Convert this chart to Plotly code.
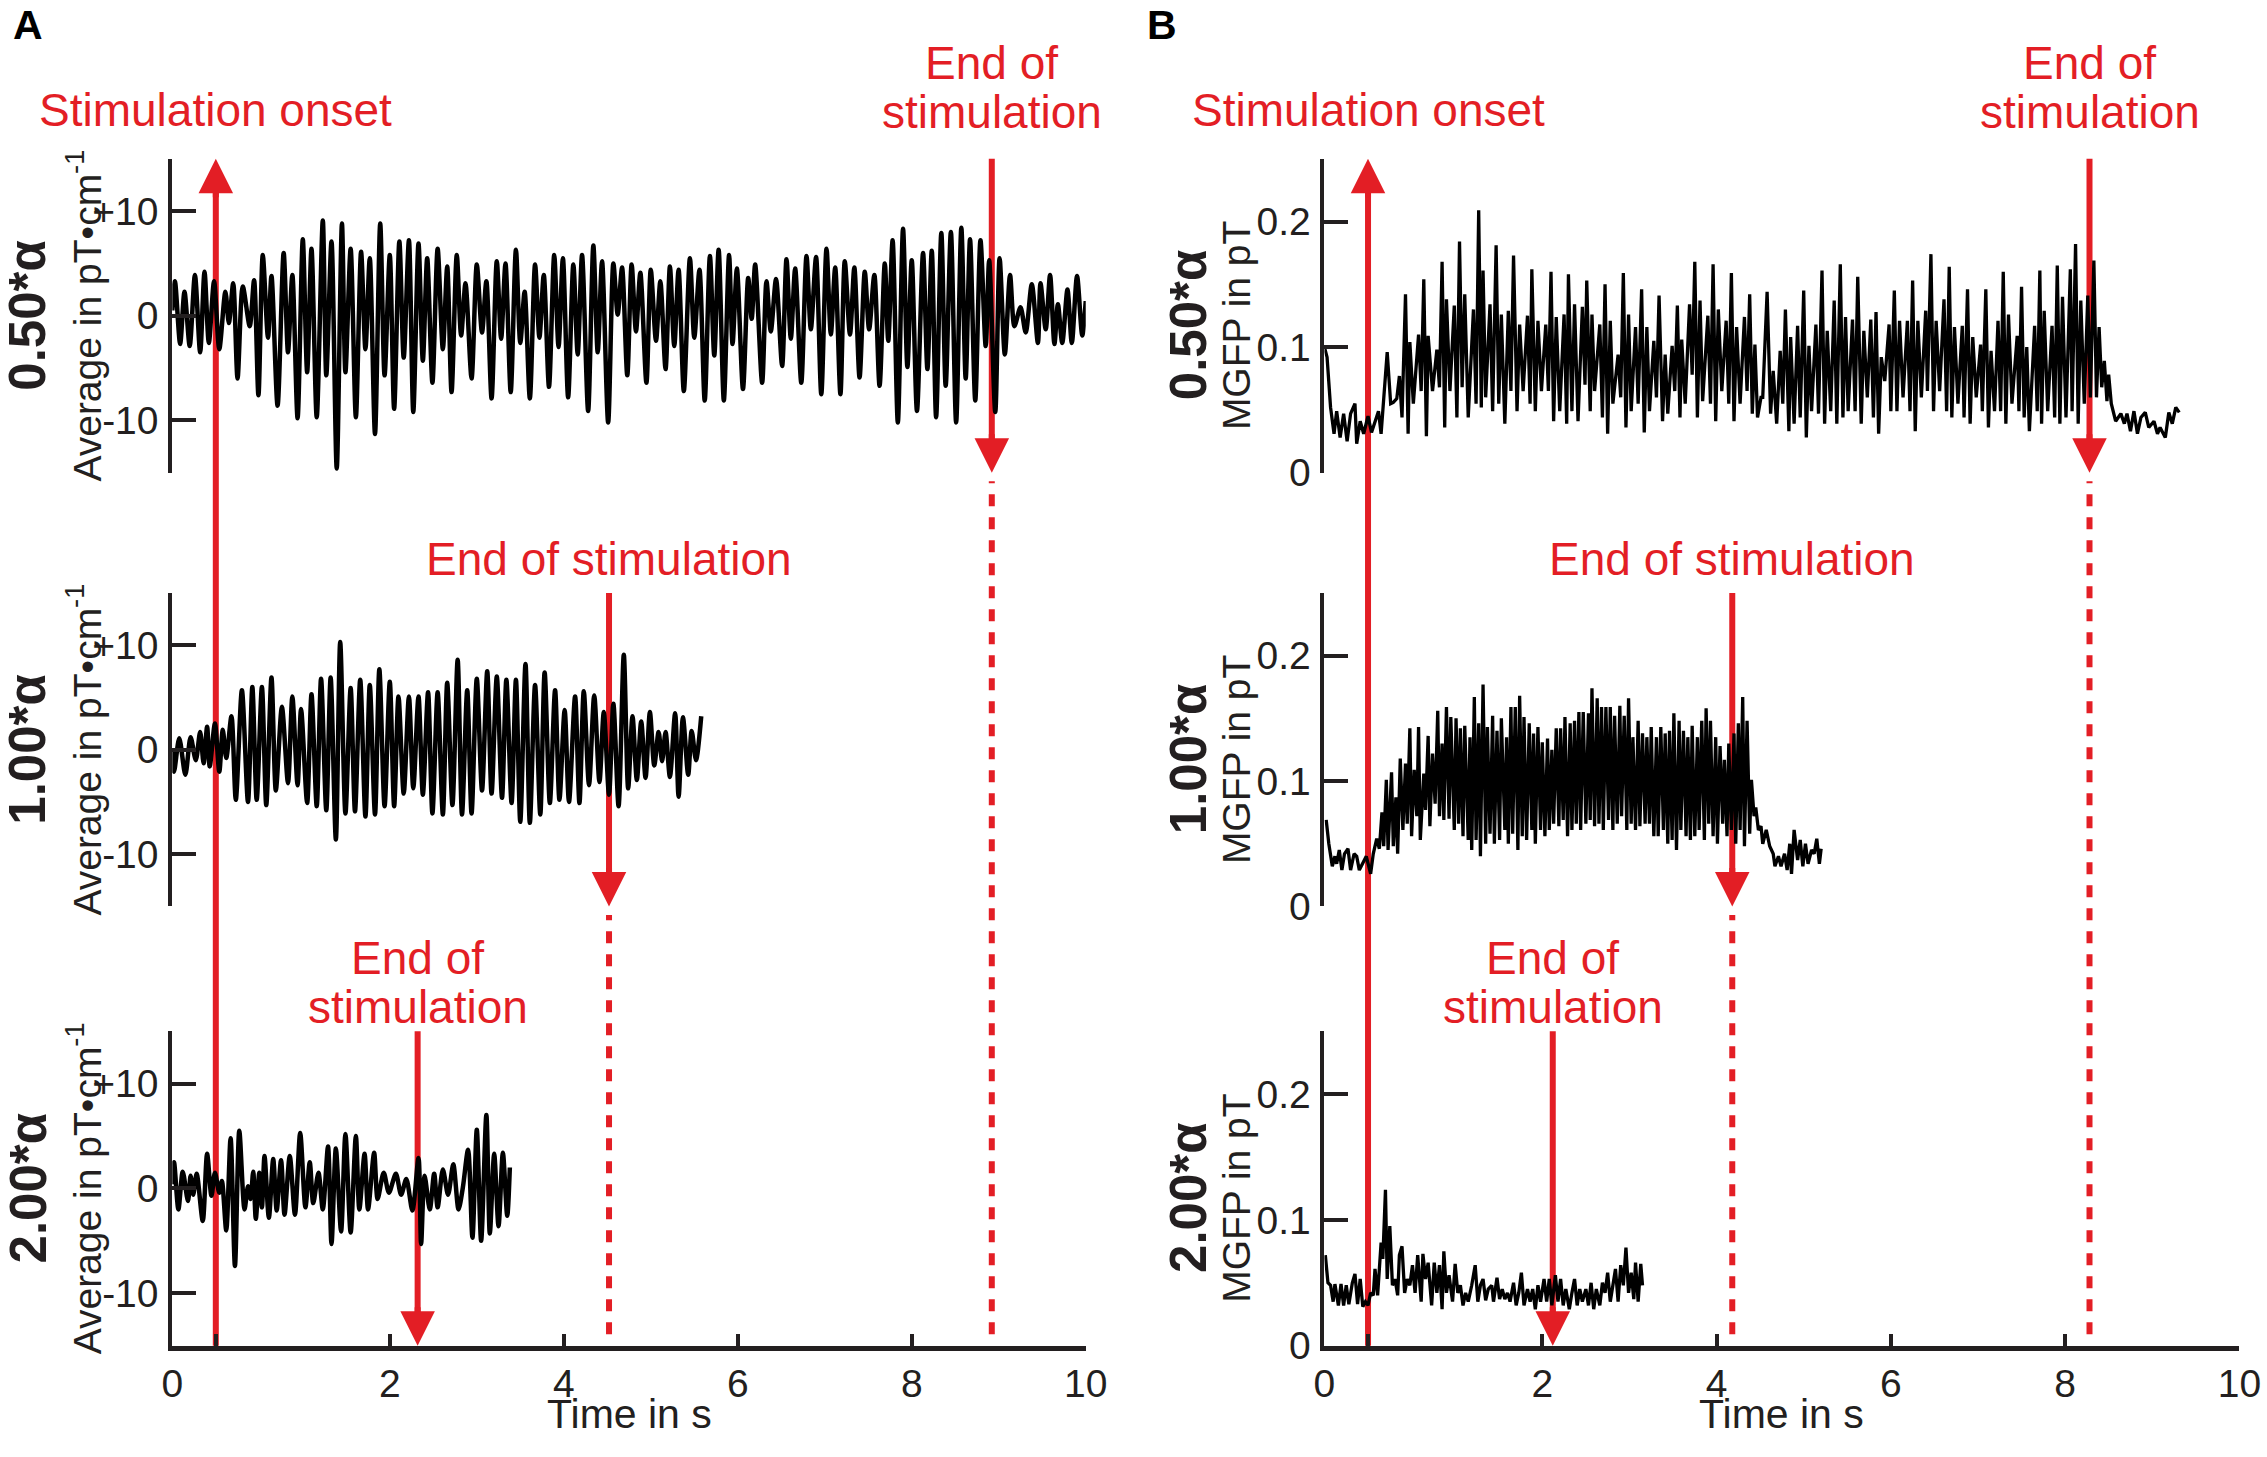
import plotly.graph_objects as go

RED = "#E31E25"
INK = "#231F20"
FONT = "Arial, Liberation Sans, sans-serif"
W, H = 2267, 1457

# the captured page came out ~1.3% smaller and nudged right; positions below are
# taken from the reference in pixels and mapped back through that offset
S, DX, DY = 0.9866, 9, 1


def px_x(p):
    return (p - DX) / S / W


def px_y(p):
    return 1 - (p - DY) / S / H


def fs(n):
    return round(n / S)


# ---- panel A: averaged signal, pT/cm ----
a_top_t = [-0.50, -0.47, -0.41, -0.36, -0.30, -0.24, -0.18, -0.13, -0.08, -0.02,
           0.04, 0.11, 0.15, 0.20, 0.25, 0.31, 0.39, 0.44, 0.49, 0.54,
           0.60, 0.64, 0.71, 0.78, 0.83, 0.88, 0.94, 1.00, 1.05, 1.10,
           1.16, 1.23, 1.27, 1.33, 1.39, 1.45, 1.49, 1.55, 1.61, 1.67,
           1.72, 1.77, 1.83, 1.89, 1.94, 2.00, 2.05, 2.11, 2.16, 2.22,
           2.27, 2.33, 2.38, 2.43, 2.49, 2.55, 2.61, 2.66, 2.71, 2.77,
           2.82, 2.87, 2.94, 3.00, 3.06, 3.11, 3.17, 3.23, 3.28, 3.33,
           3.39, 3.45, 3.50, 3.55, 3.61, 3.67, 3.72, 3.77, 3.83, 3.89,
           3.94, 3.99, 4.05, 4.11, 4.16, 4.21, 4.28, 4.34, 4.39, 4.44,
           4.51, 4.57, 4.62, 4.67, 4.73, 4.78, 4.83, 4.88, 4.95, 5.00,
           5.06, 5.11, 5.17, 5.22, 5.27, 5.32, 5.38, 5.45, 5.50, 5.56,
           5.62, 5.68, 5.73, 5.78, 5.84, 5.90, 5.94, 5.99, 6.06, 6.12,
           6.16, 6.20, 6.28, 6.33, 6.38, 6.44, 6.51, 6.56, 6.61, 6.66,
           6.73, 6.79, 6.84, 6.90, 6.96, 7.02, 7.07, 7.12, 7.18, 7.23,
           7.29, 7.34, 7.40, 7.46, 7.51, 7.57, 7.63, 7.69, 7.73, 7.78,
           7.84, 7.90, 7.95, 8.00, 8.06, 8.13, 8.18, 8.23, 8.28, 8.34,
           8.39, 8.45, 8.51, 8.57, 8.62, 8.67, 8.73, 8.79, 8.85, 8.89,
           8.96, 9.01, 9.07, 9.13, 9.18, 9.25, 9.31, 9.38, 9.45, 9.48,
           9.54, 9.59, 9.64, 9.68, 9.73, 9.79, 9.84, 9.90, 9.96, 10.00]
a_top_v = [0.5, 3.3, -2.7, 2.3, -2.9, 3.9, -3.5, 4.2, -2.6, 3.3,
           -3.2, 2.3, -0.7, 3.1, -6.0, 2.8, -1.0, 3.4, -7.6, 5.8,
           -2.1, 3.8, -8.6, 6.0, -3.5, 3.9, -9.8, 7.3, -5.4, 6.4,
           -9.7, 9.1, -5.7, 7.1, -14.6, 8.8, -5.4, 6.4, -9.7, 6.1,
           -3.2, 5.5, -11.3, 8.8, -5.7, 5.8, -8.9, 7.1, -4.0, 7.2,
           -9.2, 6.9, -4.3, 5.5, -6.4, 6.4, -3.2, 4.7, -7.3, 5.8,
           -1.9, 3.1, -6.0, 4.9, -1.6, 3.3, -7.9, 5.2, -2.2, 5.0,
           -7.3, 6.3, -2.6, 2.3, -7.9, 4.9, -2.1, 3.9, -6.8, 5.8,
           -3.0, 5.5, -7.8, 4.9, -3.7, 5.8, -9.1, 6.7, -3.5, 5.2,
           -10.2, 5.0, 0.1, 4.6, -5.7, 4.9, -1.5, 4.1, -6.4, 4.4,
           -2.4, 3.3, -5.1, 4.7, -2.9, 4.4, -7.2, 5.5, -2.1, 4.4,
           -8.1, 5.7, -3.8, 6.3, -8.1, 5.8, -2.7, 4.5, -7.0, 3.6,
           -0.3, 4.9, -6.4, 3.3, -1.5, 3.5, -4.8, 5.4, -2.2, 4.5,
           -6.4, 5.7, -1.3, 5.6, -7.5, 6.4, -1.8, 4.6, -7.5, 5.2,
           -1.8, 4.6, -5.9, 4.2, -1.3, 3.9, -6.7, 5.0, -2.4, 7.2,
           -10.2, 8.3, -4.9, 5.3, -9.1, 6.0, -5.1, 6.2, -9.7, 7.9,
           -6.7, 8.0, -10.2, 8.4, -6.0, 7.3, -8.1, 7.2, -2.9, 5.3,
           -9.2, 5.5, -3.7, 3.9, -1.0, 0.8, -1.6, 3.0, -2.6, 3.1,
           -1.3, 3.9, -2.7, 1.1, -2.6, 2.5, -2.6, 3.8, -1.9, 1.4]

a_mid_t = [-0.50, -0.48, -0.42, -0.35, -0.29, -0.23, -0.18, -0.14, -0.10, -0.07,
           -0.01, 0.04, 0.08, 0.12, 0.18, 0.23, 0.30, 0.37, 0.42, 0.47,
           0.53, 0.58, 0.64, 0.69, 0.76, 0.83, 0.88, 0.94, 0.98, 1.05,
           1.10, 1.16, 1.21, 1.27, 1.32, 1.38, 1.43, 1.49, 1.55, 1.60,
           1.66, 1.72, 1.77, 1.83, 1.88, 1.94, 2.00, 2.05, 2.10, 2.16,
           2.22, 2.27, 2.33, 2.38, 2.44, 2.49, 2.55, 2.61, 2.66, 2.72,
           2.78, 2.83, 2.89, 2.94, 3.00, 3.06, 3.12, 3.17, 3.23, 3.29,
           3.34, 3.40, 3.45, 3.50, 3.56, 3.61, 3.67, 3.73, 3.78, 3.84,
           3.90, 3.95, 4.01, 4.06, 4.13, 4.18, 4.23, 4.29, 4.35, 4.41,
           4.46, 4.52, 4.57, 4.63, 4.69, 4.74, 4.79, 4.84, 4.89, 4.94,
           4.99, 5.04, 5.09, 5.13, 5.17, 5.22, 5.28, 5.32, 5.37, 5.43,
           5.47, 5.52, 5.58]
a_mid_v = [0.0, -2.1, 1.1, -2.4, 1.2, -1.0, 1.7, -1.3, 2.2, -1.6,
           2.5, -2.1, 1.9, -0.8, 3.2, -4.8, 5.7, -5.0, 6.0, -4.8,
           6.0, -5.3, 6.9, -3.9, 4.1, -3.2, 5.1, -3.4, 3.9, -5.1,
           5.3, -5.4, 6.8, -5.8, 6.9, -8.6, 10.3, -6.1, 5.9, -5.9,
           6.7, -6.4, 6.2, -6.2, 7.7, -5.4, 6.5, -5.4, 5.1, -4.2,
           5.1, -3.7, 5.1, -4.3, 5.5, -6.1, 5.5, -6.2, 6.4, -5.3,
           8.6, -6.2, 5.7, -6.1, 6.8, -3.9, 7.5, -4.2, 7.0, -4.6,
           6.7, -5.1, 6.7, -6.9, 8.2, -7.0, 6.2, -6.2, 7.4, -5.1,
           5.7, -4.8, 3.8, -5.0, 5.1, -5.1, 5.6, -3.4, 5.2, -3.1,
           3.6, -4.3, 4.4, -5.4, 9.1, -3.7, 3.2, -2.9, 2.7, -2.7,
           3.6, -1.5, 1.7, -1.1, 1.7, -2.6, 3.5, -4.5, 3.1, -2.4,
           1.8, -1.0, 3.2]

a_bot_t = [-0.50, -0.48, -0.43, -0.38, -0.32, -0.29, -0.26, -0.22, -0.15, -0.10,
           -0.05, -0.01, 0.04, 0.07, 0.12, 0.17, 0.22, 0.27, 0.33, 0.37,
           0.40, 0.43, 0.46, 0.50, 0.53, 0.56, 0.61, 0.66, 0.70, 0.75,
           0.79, 0.85, 0.91, 0.97, 1.03, 1.08, 1.12, 1.18, 1.23, 1.29,
           1.33, 1.38, 1.44, 1.49, 1.55, 1.61, 1.65, 1.71, 1.75, 1.82,
           1.86, 1.93, 1.99, 2.07, 2.13, 2.19, 2.26, 2.33, 2.36, 2.40,
           2.46, 2.51, 2.55, 2.61, 2.67, 2.73, 2.79, 2.84, 2.90, 2.95,
           3.00, 3.05, 3.11, 3.15, 3.20, 3.25, 3.30, 3.35, 3.38]
a_bot_v = [0.4, 2.5, -2.0, 1.6, -1.2, 1.2, -0.6, 1.4, -3.1, 3.3,
           -0.7, 1.5, -0.4, 0.7, -4.0, 4.8, -7.4, 5.5, -2.0, 0.2,
           -1.0, 1.6, -2.9, 1.5, -1.8, 3.1, -2.8, 2.8, -2.1, 2.7,
           -2.5, 3.1, -2.5, 5.3, -1.8, 2.5, -1.4, 1.5, -2.0, 4.0,
           -5.3, 3.8, -4.1, 5.2, -4.2, 5.0, -2.0, 3.3, -2.0, 3.4,
           -1.0, 1.5, -0.4, 1.4, -0.6, 0.9, -2.1, 2.9, -5.3, 1.2,
           -2.0, 1.4, -1.8, 1.8, -0.6, 2.3, -2.0, 0.1, 3.7, -4.7,
           5.6, -5.0, 7.0, -4.3, 3.3, -3.6, 3.4, -2.6, 2.0]

# ---- panel B: MGFP, pT ----
b_top_t = [-0.50, -0.47, -0.43, -0.39, -0.36, -0.32, -0.28, -0.24, -0.20, -0.15, -0.13,
           -0.09, -0.05, 0.00, 0.04, 0.08, 0.12, 0.15, 0.18, 0.22, 0.26,
           0.29, 0.33, 0.36, 0.39, 0.43, 0.46, 0.48, 0.52, 0.58, 0.61,
           0.64, 0.67, 0.69, 0.74, 0.79, 0.82, 0.85, 0.88, 0.90, 0.94,
           0.99, 1.02, 1.05, 1.08, 1.11, 1.15, 1.21, 1.24, 1.27, 1.30,
           1.32, 1.35, 1.40, 1.43, 1.47, 1.50, 1.53, 1.57, 1.61, 1.64,
           1.67, 1.71, 1.74, 1.78, 1.83, 1.86, 1.88, 1.92, 1.95, 1.99,
           2.04, 2.07, 2.10, 2.13, 2.16, 2.20, 2.25, 2.28, 2.30, 2.34,
           2.37, 2.41, 2.46, 2.49, 2.51, 2.55, 2.57, 2.60, 2.66, 2.69,
           2.72, 2.75, 2.78, 2.81, 2.87, 2.90, 2.93, 2.96, 2.99, 3.02,
           3.07, 3.10, 3.14, 3.17, 3.20, 3.23, 3.28, 3.31, 3.34, 3.38,
           3.41, 3.44, 3.49, 3.52, 3.55, 3.58, 3.60, 3.64, 3.69, 3.72,
           3.75, 3.78, 3.81, 3.84, 3.90, 3.93, 3.96, 3.99, 4.02, 4.06,
           4.11, 4.14, 4.17, 4.20, 4.23, 4.27, 4.32, 4.35, 4.38, 4.41,
           4.44, 4.47, 4.51,
           4.53, 4.58, 4.62, 4.65, 4.69, 4.73, 4.76, 4.79, 4.83, 4.85,
           4.89, 4.93, 4.96, 5.00, 5.03, 5.06, 5.09, 5.14, 5.17, 5.21,
           5.24, 5.27, 5.31, 5.35, 5.38, 5.42, 5.45, 5.48, 5.51, 5.56,
           5.59, 5.62, 5.66, 5.69, 5.73, 5.77, 5.80, 5.83, 5.86, 5.89,
           5.93, 5.98, 6.00, 6.04, 6.07, 6.10, 6.14, 6.19, 6.22, 6.25,
           6.28, 6.31, 6.35, 6.40, 6.42, 6.46, 6.49, 6.52, 6.56, 6.61,
           6.64, 6.67, 6.70, 6.73, 6.77, 6.82, 6.84, 6.88, 6.91, 6.94,
           6.98, 7.03, 7.05, 7.09, 7.12, 7.15, 7.19, 7.23, 7.26, 7.29,
           7.32, 7.35, 7.39, 7.45, 7.47, 7.50, 7.53, 7.56, 7.59, 7.65,
           7.68, 7.71, 7.73, 7.76, 7.80, 7.85, 7.88, 7.91, 7.94, 7.97,
           8.01, 8.06, 8.08, 8.12, 8.15, 8.18, 8.22, 8.26, 8.29, 8.33,
           8.36, 8.39, 8.42, 8.45, 8.48, 8.50, 8.53, 8.58, 8.64, 8.68,
           8.71, 8.75, 8.79, 8.83, 8.87, 8.92, 8.96, 9.02, 9.06, 9.09,
           9.15, 9.19, 9.23, 9.27, 9.31]
b_top_v = [0.100, 0.092, 0.052, 0.031, 0.049, 0.028, 0.047, 0.025, 0.047, 0.055, 0.023,
           0.041, 0.031, 0.045, 0.032, 0.041, 0.049, 0.031, 0.060, 0.096, 0.055,
           0.056, 0.059, 0.077, 0.044, 0.142, 0.031, 0.104, 0.055, 0.110, 0.065,
           0.154, 0.029, 0.109, 0.065, 0.098, 0.068, 0.168, 0.036, 0.138, 0.065,
           0.133, 0.044, 0.184, 0.068, 0.142, 0.044, 0.130, 0.055, 0.209, 0.052,
           0.161, 0.060, 0.134, 0.049, 0.181, 0.055, 0.126, 0.039, 0.129, 0.065,
           0.173, 0.049, 0.118, 0.065, 0.125, 0.055, 0.162, 0.049, 0.121, 0.065,
           0.118, 0.065, 0.160, 0.041, 0.124, 0.049, 0.126, 0.039, 0.158, 0.049,
           0.134, 0.041, 0.132, 0.070, 0.153, 0.049, 0.126, 0.065, 0.118, 0.044,
           0.150, 0.031, 0.121, 0.055, 0.094, 0.060, 0.159, 0.036, 0.126, 0.049,
           0.116, 0.055, 0.146, 0.032, 0.116, 0.049, 0.105, 0.060, 0.141, 0.041,
           0.094, 0.047, 0.101, 0.065, 0.133, 0.044, 0.106, 0.055, 0.134, 0.078,
           0.168, 0.044, 0.137, 0.057, 0.125, 0.055, 0.166, 0.041, 0.130, 0.065,
           0.121, 0.055, 0.159, 0.041, 0.116, 0.055, 0.124, 0.065, 0.142, 0.047,
           0.102, 0.044, 0.060,
           0.060, 0.144, 0.047, 0.081, 0.039, 0.097, 0.055, 0.130, 0.033, 0.108,
           0.039, 0.117, 0.044, 0.145, 0.028, 0.101, 0.049, 0.118, 0.047, 0.161,
           0.039, 0.113, 0.049, 0.137, 0.039, 0.166, 0.044, 0.124, 0.049, 0.122,
           0.049, 0.156, 0.039, 0.113, 0.060, 0.122, 0.044, 0.128, 0.031, 0.092,
           0.073, 0.118, 0.049, 0.145, 0.049, 0.121, 0.060, 0.121, 0.049, 0.153,
           0.033, 0.121, 0.060, 0.129, 0.065, 0.174, 0.049, 0.121, 0.065, 0.138,
           0.049, 0.164, 0.044, 0.116, 0.055, 0.117, 0.044, 0.146, 0.039, 0.108,
           0.060, 0.102, 0.049, 0.146, 0.036, 0.097, 0.049, 0.121, 0.049, 0.160,
           0.039, 0.126, 0.055, 0.109, 0.049, 0.148, 0.044, 0.100, 0.033, 0.117,
           0.049, 0.161, 0.039, 0.129, 0.049, 0.117, 0.044, 0.165, 0.039, 0.140,
           0.044, 0.162, 0.049, 0.182, 0.039, 0.137, 0.055, 0.141, 0.060, 0.169,
           0.060, 0.116, 0.068, 0.089, 0.057, 0.078, 0.055, 0.041, 0.047, 0.039,
           0.047, 0.033, 0.049, 0.031, 0.044, 0.048, 0.036, 0.041, 0.031, 0.036,
           0.028, 0.048, 0.039, 0.052, 0.048]

b_mid_t = [-0.48, -0.45, -0.41, -0.38, -0.36, -0.33, -0.30, -0.27, -0.23, -0.20,
           -0.16, -0.13, -0.10, -0.06, -0.02, 0.03, 0.06, 0.10, 0.13, 0.16,
           0.18, 0.21, 0.23, 0.27, 0.29, 0.32, 0.34, 0.37, 0.40, 0.43,
           0.45, 0.48, 0.50, 0.53, 0.56, 0.58, 0.60, 0.64, 0.66, 0.69,
           0.71, 0.74, 0.77, 0.80, 0.82, 0.85, 0.87, 0.90, 0.93, 0.95,
           0.99, 1.01, 1.04, 1.06, 1.09, 1.11, 1.15, 1.17, 1.19, 1.22,
           1.24, 1.27, 1.29, 1.32, 1.35, 1.37, 1.40, 1.43, 1.45, 1.48,
           1.51, 1.53, 1.57, 1.59, 1.61, 1.64, 1.66, 1.69, 1.72, 1.74,
           1.77, 1.79, 1.82, 1.85, 1.88, 1.90, 1.92, 1.95, 1.98, 2.00,
           2.03, 2.06, 2.08, 2.11, 2.13, 2.16, 2.19, 2.21, 2.24, 2.26,
           2.29, 2.32, 2.34, 2.37, 2.39, 2.42, 2.44, 2.47, 2.50, 2.53,
           2.55, 2.57, 2.60, 2.63, 2.65, 2.68, 2.70, 2.73, 2.76, 2.78,
           2.81, 2.83, 2.86, 2.89, 2.91, 2.94, 2.97, 2.99, 3.02, 3.04,
           3.07, 3.10, 3.12, 3.15, 3.18, 3.20, 3.23, 3.25, 3.28, 3.31,
           3.33, 3.36, 3.39, 3.41, 3.44, 3.46, 3.49, 3.51, 3.54, 3.57,
           3.59, 3.62, 3.65, 3.67, 3.70, 3.72, 3.75, 3.78, 3.80, 3.83,
           3.86, 3.88, 3.91, 3.93, 3.96, 3.99, 4.01, 4.04, 4.07, 4.09,
           4.12, 4.14, 4.17, 4.20, 4.22, 4.25, 4.27, 4.30, 4.32, 4.35,
           4.38, 4.40, 4.43, 4.45, 4.48, 4.51, 4.53, 4.57, 4.61, 4.65,
           4.67, 4.71, 4.74, 4.78, 4.81, 4.84, 4.86, 4.89, 4.93, 4.96,
           4.99, 5.02, 5.05, 5.09, 5.12, 5.15, 5.18, 5.20]
b_mid_v = [0.069, 0.050, 0.032, 0.040, 0.034, 0.045, 0.029, 0.042, 0.046, 0.029,
           0.042, 0.040, 0.029, 0.034, 0.040, 0.026, 0.042, 0.054, 0.046, 0.075,
           0.048, 0.101, 0.045, 0.107, 0.048, 0.087, 0.042, 0.118, 0.061, 0.114,
           0.066, 0.142, 0.056, 0.109, 0.072, 0.143, 0.053, 0.106, 0.077, 0.136,
           0.064, 0.122, 0.082, 0.156, 0.072, 0.130, 0.069, 0.159, 0.070, 0.151,
           0.061, 0.150, 0.066, 0.142, 0.056, 0.144, 0.053, 0.135, 0.045, 0.167,
           0.053, 0.146, 0.040, 0.177, 0.050, 0.143, 0.058, 0.152, 0.050, 0.140,
           0.053, 0.150, 0.061, 0.135, 0.050, 0.159, 0.058, 0.159, 0.045, 0.168,
           0.056, 0.151, 0.053, 0.146, 0.061, 0.138, 0.050, 0.143, 0.061, 0.131,
           0.056, 0.134, 0.061, 0.125, 0.066, 0.142, 0.064, 0.142, 0.069, 0.151,
           0.056, 0.146, 0.061, 0.148, 0.066, 0.155, 0.061, 0.155, 0.066, 0.154,
           0.069, 0.174, 0.064, 0.166, 0.066, 0.159, 0.061, 0.159, 0.069, 0.159,
           0.061, 0.152, 0.066, 0.160, 0.072, 0.152, 0.061, 0.166, 0.066, 0.135,
           0.061, 0.148, 0.064, 0.138, 0.066, 0.135, 0.066, 0.143, 0.056, 0.135,
           0.056, 0.143, 0.061, 0.138, 0.050, 0.140, 0.053, 0.154, 0.045, 0.148,
           0.061, 0.140, 0.056, 0.135, 0.053, 0.144, 0.056, 0.135, 0.061, 0.148,
           0.053, 0.158, 0.066, 0.148, 0.056, 0.135, 0.050, 0.128, 0.066, 0.117,
           0.056, 0.130, 0.061, 0.138, 0.050, 0.146, 0.061, 0.167, 0.048, 0.148,
           0.058, 0.101, 0.072, 0.079, 0.061, 0.064, 0.050, 0.061, 0.048, 0.042,
           0.032, 0.040, 0.032, 0.042, 0.029, 0.050, 0.026, 0.061, 0.037, 0.053,
           0.032, 0.050, 0.034, 0.045, 0.042, 0.054, 0.034, 0.046]

b_bot_t = [-0.49, -0.46, -0.43, -0.40, -0.38, -0.34, -0.31, -0.28, -0.25, -0.22,
           -0.18, -0.15, -0.12, -0.09, -0.06, -0.03, 0.00, 0.03, 0.06, 0.08,
           0.11, 0.15, 0.17, 0.20, 0.22, 0.25, 0.28, 0.31, 0.34, 0.36,
           0.39, 0.42, 0.45, 0.48, 0.51, 0.54, 0.57, 0.61, 0.63, 0.66,
           0.69, 0.73, 0.76, 0.79, 0.82, 0.85, 0.87, 0.90, 0.93, 0.97,
           1.00, 1.03, 1.06, 1.09, 1.12, 1.15, 1.19, 1.23, 1.26, 1.29,
           1.32, 1.35, 1.38, 1.42, 1.44, 1.48, 1.51, 1.54, 1.57, 1.60,
           1.63, 1.67, 1.70, 1.73, 1.76, 1.79, 1.83, 1.86, 1.89, 1.92,
           1.95, 1.98, 2.02, 2.05, 2.08, 2.11, 2.15, 2.18, 2.21, 2.24,
           2.27, 2.31, 2.34, 2.37, 2.40, 2.43, 2.46, 2.50, 2.53, 2.56,
           2.59, 2.62, 2.66, 2.69, 2.72, 2.75, 2.78, 2.82, 2.84, 2.87,
           2.90, 2.93, 2.96, 2.99, 3.02, 3.05, 3.07, 3.10, 3.13, 3.15]
b_bot_v = [0.072, 0.050, 0.048, 0.035, 0.049, 0.032, 0.049, 0.032, 0.048, 0.033,
           0.050, 0.057, 0.033, 0.053, 0.031, 0.035, 0.032, 0.042, 0.040, 0.061,
           0.040, 0.082, 0.069, 0.124, 0.053, 0.095, 0.048, 0.053, 0.040, 0.072,
           0.079, 0.042, 0.053, 0.048, 0.064, 0.042, 0.072, 0.035, 0.073, 0.053,
           0.066, 0.032, 0.066, 0.042, 0.064, 0.029, 0.075, 0.042, 0.056, 0.035,
           0.065, 0.042, 0.048, 0.032, 0.042, 0.035, 0.048, 0.064, 0.035, 0.048,
           0.053, 0.036, 0.045, 0.048, 0.035, 0.054, 0.037, 0.045, 0.037, 0.042,
           0.035, 0.050, 0.032, 0.042, 0.058, 0.032, 0.045, 0.035, 0.045, 0.029,
           0.048, 0.035, 0.053, 0.035, 0.053, 0.032, 0.056, 0.035, 0.053, 0.032,
           0.045, 0.029, 0.042, 0.053, 0.032, 0.045, 0.035, 0.045, 0.032, 0.050,
           0.029, 0.045, 0.032, 0.050, 0.042, 0.058, 0.035, 0.050, 0.061, 0.035,
           0.064, 0.048, 0.078, 0.042, 0.058, 0.037, 0.066, 0.035, 0.065, 0.048]

# stimulation events (s)
onset = 0.0
a_end = [8.92, 4.52, 2.32]
b_end = [8.28, 4.18, 2.12]
row_labels = ["0.50*α", "1.00*α", "2.00*α"]

# layout geometry (reference pixels -> paper)
col_x = {"A": [px_x(170.5), px_x(1085)], "B": [px_x(1324), px_x(2240)]}
row_y = [[px_y(474.5), px_y(160)], [px_y(909), px_y(595)], [px_y(1349), px_y(1034)]]
a_range = [-15, 15]
b_range = [0, 0.25]
x_range = [-0.5, 10]

fig = go.Figure()

series = [("A", 0, a_top_t, a_top_v), ("A", 1, a_mid_t, a_mid_v), ("A", 2, a_bot_t, a_bot_v),
          ("B", 0, b_top_t, b_top_v), ("B", 1, b_mid_t, b_mid_v), ("B", 2, b_bot_t, b_bot_v)]


def ax_id(col, row):
    return (0 if col == "A" else 3) + row + 1


for col, row, t, v in series:
    n = ax_id(col, row)
    sfx = "" if n == 1 else str(n)
    if col == "A":
        line = dict(color="black", width=4.5, shape="spline", smoothing=0.8)
    else:
        line = dict(color="black", width=3.3)
    fig.add_trace(go.Scatter(x=t, y=v, mode="lines", line=line,
                             xaxis="x" + sfx, yaxis="y" + sfx,
                             hoverinfo="skip", showlegend=False))

    yax = dict(domain=row_y[row], anchor="x" + sfx, showline=True, linecolor=INK,
               linewidth=4, ticks="inside", ticklen=24, tickwidth=4, tickcolor=INK,
               showgrid=False, zeroline=False, ticklabelstandoff=2,
               tickfont=dict(family=FONT, size=fs(38), color=INK))
    if col == "A":
        yax.update(range=a_range, tickvals=[-10, 0, 10], ticktext=["-10", "0", "+10"])
    else:
        yax.update(range=b_range, tickvals=[0, 0.1, 0.2], ticktext=["0", "0.1", "0.2"])

    xax = dict(domain=col_x[col], anchor="y" + sfx, range=x_range, showgrid=False,
               zeroline=False)
    if row == 2:
        xax.update(showline=True, linecolor=INK, linewidth=5, ticks="inside",
                   ticklen=12, tickwidth=4, tickcolor=INK,
                   tickvals=[-0.5, 0, 2, 4, 6, 8, 10],
                   ticktext=["0", "", "2", "4", "6", "8", "10"],
                   ticklabelstandoff=0,
                   tickfont=dict(family=FONT, size=fs(38), color=INK))
    else:
        xax.update(visible=False)

    fig.update_layout({"xaxis" + sfx: xax, "yaxis" + sfx: yax})

shapes = []
annos = []


def red_line(xref, x, y0, y1, dash="solid"):
    shapes.append(dict(type="line", xref=xref, yref="paper", x0=x, x1=x, y0=y0, y1=y1,
                       layer="below", line=dict(color=RED, width=6, dash=dash)))


def red_head(n, x, y, up):
    sfx = "" if n == 1 else str(n)
    annos.append(dict(xref="x" + sfx, yref="y" + sfx, x=x, y=y, text="",
                      showarrow=True, arrowhead=2, arrowsize=1.15, arrowwidth=6,
                      arrowcolor=RED, ax=0, ay=40 if up else -40))


def red_text(xref, x, yc, lines):
    step = 49
    top = yc - step * (len(lines) - 1) / 2
    for i, s in enumerate(lines):
        annos.append(dict(xref=xref, yref="paper", x=x, y=px_y(top + i * step), text=s,
                          showarrow=False, xanchor="center", yanchor="middle",
                          font=dict(family=FONT, size=fs(45), color=RED)))


for col, ends, rng in [("A", a_end, a_range), ("B", b_end, b_range)]:
    top_n = ax_id(col, 0)
    xref = "x" if top_n == 1 else "x" + str(top_n)
    # onset arrow through all three rows
    red_line(xref, onset, row_y[2][0], row_y[0][1] - 0.01)
    red_head(top_n, onset, rng[1], True)
    red_text(xref, onset, 111, ["Stimulation onset"])
    for row, te in enumerate(ends):
        red_line(xref, te, row_y[row][0] + 0.01, row_y[row][1])
        red_head(ax_id(col, row), te, rng[0], False)
        if row < 2:
            red_line(xref, te, row_y[2][0] + 0.008, row_y[row][0] - 0.006, dash="12px,11px")
    red_text(xref, ends[0], 88.5, ["End of", "stimulation"])
    red_text(xref, ends[1], 561, ["End of stimulation"])
    red_text(xref, ends[2], 985.5, ["End of", "stimulation"])

# row labels, y titles, x titles, panel letters
for col in ["A", "B"]:
    x0, x1 = col_x[col]
    lab_x = px_x(26) if col == "A" else px_x(1188)
    tit_x = px_x(82) if col == "A" else px_x(1236)
    title = "Average in pT•cm<sup>-1</sup>" if col == "A" else "MGFP in pT"
    shift = 0 if col == "A" else -10 / H
    for row in range(3):
        yc = sum(row_y[row]) / 2
        annos.append(dict(xref="paper", yref="paper", x=lab_x, y=yc + shift,
                          text="<b>" + row_labels[row] + "</b>", textangle=-90,
                          showarrow=False, xanchor="center", yanchor="middle",
                          font=dict(family=FONT, size=fs(50), color=INK)))
        annos.append(dict(xref="paper", yref="paper", x=tit_x, y=yc + shift,
                          text=title, textangle=-90, showarrow=False,
                          xanchor="center", yanchor="middle",
                          font=dict(family=FONT, size=fs(38), color=INK)))
    annos.append(dict(xref="paper", yref="paper", x=(x0 + x1) / 2, y=0,
                      text="Time in s", showarrow=False, xanchor="center",
                      yanchor="bottom", yshift=-4,
                      font=dict(family=FONT, size=fs(40), color=INK)))
    annos.append(dict(xref="paper", yref="paper", x=max(px_x(4 if col == "A" else 1144), 0),
                      y=px_y(26), text="<b>" + col + "</b>", showarrow=False,
                      xanchor="left", yanchor="middle",
                      font=dict(family=FONT, size=fs(40), color="black")))

fig.update_layout(width=W, height=H, margin=dict(l=0, r=0, t=0, b=0),
                  paper_bgcolor="white", plot_bgcolor="white",
                  shapes=shapes, annotations=annos, showlegend=False)

fig.write_html("out.html", config={"displayModeBar": False},
               post_script="document.body.style.margin='0px';")
